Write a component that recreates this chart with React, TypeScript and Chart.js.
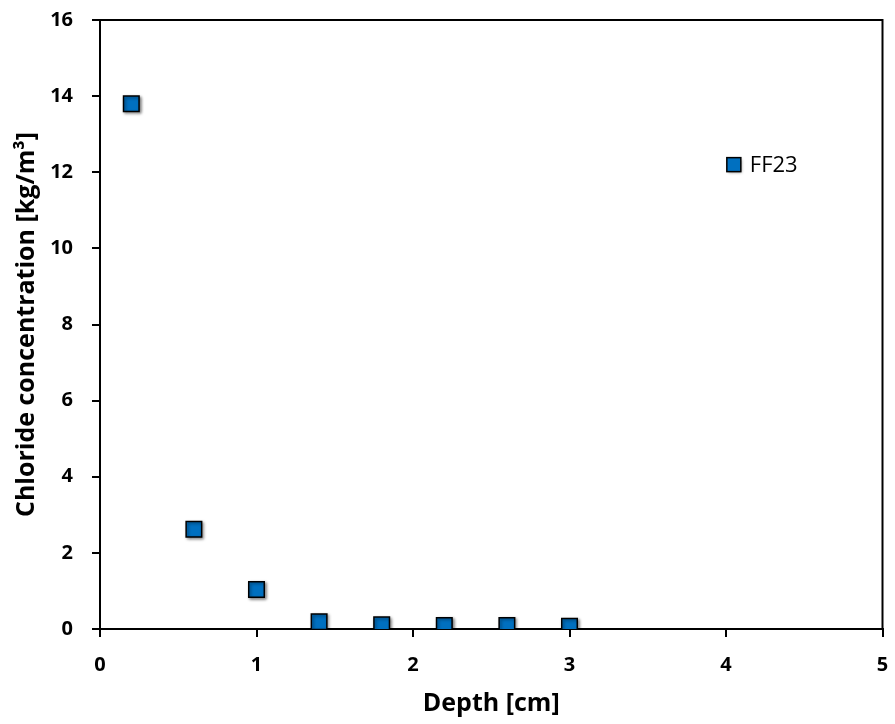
import React, { useEffect, useRef } from "react";
import { Chart, registerables } from "chart.js";

Chart.register(...registerables);

const seriesLabel = "FF23";
const depthCm = [0.2, 0.6, 1.0, 1.4, 1.8, 2.2, 2.6, 3.0];
const chlorideKgM3 = [13.8, 2.62, 1.04, 0.19, 0.11, 0.09, 0.09, 0.07];
const xTitle = "Depth [cm]";
const yTitle = "Chloride concentration [kg/m³]";

const FONT = "'Open Sans', 'Liberation Sans', sans-serif";

const framePlugin = {
  id: "frame",
  afterDraw(chart: any) {
    const { ctx, chartArea } = chart;
    ctx.save();
    ctx.strokeStyle = "#000";
    ctx.lineWidth = 2;
    ctx.beginPath();
    ctx.moveTo(chartArea.left, chartArea.top);
    ctx.lineTo(chartArea.right, chartArea.top);
    ctx.lineTo(chartArea.right, chartArea.bottom);
    ctx.stroke();
    // legend
    const xs = chart.scales.x;
    const ys = chart.scales.y;
    const lx = xs.getPixelForValue(4.05);
    const ly = ys.getPixelForValue(12.2);
    ctx.shadowColor = "rgba(0,0,0,0.45)";
    ctx.shadowBlur = 3;
    ctx.shadowOffsetX = 1.5;
    ctx.shadowOffsetY = 1.5;
    ctx.fillStyle = "#0070C0";
    ctx.fillRect(lx - 7, ly - 7, 14, 14);
    ctx.shadowColor = "transparent";
    ctx.lineWidth = 1.5;
    ctx.strokeRect(lx - 7, ly - 7, 14, 14);
    ctx.fillStyle = "#000";
    ctx.font = `22px ${FONT}`;
    ctx.textBaseline = "middle";
    ctx.textAlign = "left";
    ctx.fillText(chart.data.datasets[0].label, lx + 16, ly + 1);
    ctx.restore();
  },
};

const shadowPlugin = {
  id: "pshadow",
  beforeDatasetsDraw(chart: any) {
    const ctx = chart.ctx;
    ctx.save();
    ctx.shadowColor = "rgba(0,0,0,0.45)";
    ctx.shadowBlur = 3;
    ctx.shadowOffsetX = 1.5;
    ctx.shadowOffsetY = 1.5;
  },
  afterDatasetsDraw(chart: any) {
    chart.ctx.restore();
  },
};

export default function App() {
  const ref = useRef<HTMLCanvasElement>(null);
  useEffect(() => {
    document.body.style.margin = "0";
    const chart = new Chart(ref.current!, {
      type: "scatter",
      data: {
        datasets: [
          {
            label: seriesLabel,
            data: depthCm.map((x, i) => ({ x, y: chlorideKgM3[i] })),
            pointStyle: "rect",
            pointRadius: 11,
            pointHoverRadius: 11,
            backgroundColor: "#0070C0",
            borderColor: "#000",
            borderWidth: 1.5,
          },
        ],
      },
      plugins: [shadowPlugin, framePlugin],
      options: {
        responsive: false,
        animation: false,
        layout: { padding: { top: 20, right: 8, left: 0, bottom: 0 } },
        plugins: { legend: { display: false }, tooltip: { enabled: false } },
        scales: {
          x: {
            type: "linear",
            min: 0,
            max: 5,
            ticks: { stepSize: 1, color: "#000", font: { family: FONT, size: 20, weight: "bold" }, padding: 16 },
            grid: { drawOnChartArea: false, tickLength: 8, color: "#000", lineWidth: 2 },
            border: { color: "#000", width: 2 },
            title: { display: true, text: xTitle, color: "#000", font: { family: FONT, size: 25, weight: "bold" }, padding: { top: 4, bottom: 5 } },
            afterFit: (s: any) => { s.height = 95; s.paddingLeft = 0; s.paddingRight = 0; },
          },
          y: {
            type: "linear",
            min: 0,
            max: 16,
            ticks: { stepSize: 2, color: "#000", font: { family: FONT, size: 20, weight: "bold" }, padding: 19 },
            grid: { drawOnChartArea: false, tickLength: 8, color: "#000", lineWidth: 2 },
            border: { color: "#000", width: 2 },
            title: { display: true, text: yTitle, color: "#000", font: { family: FONT, size: 25, weight: "bold" }, padding: { top: 12, bottom: 4 } },
            afterFit: (s: any) => { s.width = 100; s.paddingTop = 0; s.paddingBottom = 0; },
          },
        },
      },
    });
    return () => chart.destroy();
  }, []);
  return (
    <div style={{ width: 895, height: 724 }}>
      <canvas ref={ref} width={895} height={724} style={{ width: 895, height: 724, display: "block" }} />
    </div>
  );
}
